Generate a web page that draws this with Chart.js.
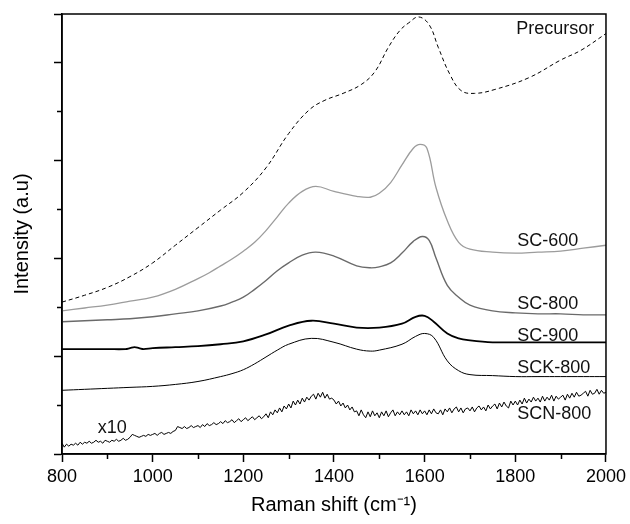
<!DOCTYPE html>
<html>
<head>
<meta charset="utf-8">
<script src="https://cdn.jsdelivr.net/npm/chart.js@4/dist/chart.umd.min.js"></script>
<style>
  body { margin: 0; background: #fff; }
  #wrap { width: 630px; height: 524px; }
</style>
</head>
<body>
<div id="wrap"><canvas id="raman"></canvas></div>
<script>
// raman spectra, values (a.u.)
const precursorX = [800, 850, 900, 950, 1000, 1050, 1100, 1150, 1200, 1250, 1300, 1345, 1380, 1420, 1460, 1490, 1520, 1545, 1565, 1587, 1610, 1630, 1655, 1680, 1710, 1755, 1830, 1900, 1945, 2000];
const precursorY = [155, 162, 170, 181, 195, 213, 231, 249, 267, 292, 327, 351, 361, 368, 377, 390, 415, 432, 440, 446, 438, 415, 388, 371, 368, 372, 384, 402, 412, 429];

const sc600X = [800, 850, 900, 950, 1000, 1050, 1100, 1125, 1150, 1175, 1200, 1225, 1250, 1275, 1300, 1330, 1360, 1400, 1450, 1480, 1500, 1525, 1550, 1575, 1590, 1605, 1625, 1650, 1675, 1700, 1750, 1800, 1850, 1900, 1950, 2000];
const sc600Y = [146, 149, 152, 156, 160, 168, 179, 185, 192, 199, 207, 216, 228, 242, 256, 268, 273, 268, 263, 262, 266, 277, 295, 312, 316, 312, 272, 238, 216, 209, 206, 205, 206, 207, 210, 213];

const sc800X = [800, 850, 900, 950, 1000, 1050, 1100, 1150, 1175, 1200, 1225, 1250, 1275, 1300, 1330, 1360, 1400, 1450, 1480, 1500, 1525, 1550, 1575, 1595, 1610, 1625, 1650, 1675, 1700, 1750, 1800, 1850, 1900, 1950, 2000];
const sc800Y = [135, 136, 137, 138, 140, 143, 146, 151, 155, 160, 168, 177, 187, 195, 203, 206, 202, 192, 190, 191, 195, 205, 217, 222, 218, 200, 172, 160, 152, 146, 144, 143, 143, 142, 142];

const sc900X = [800, 850, 900, 940, 950, 960, 970, 980, 1000, 1050, 1100, 1150, 1200, 1250, 1300, 1350, 1400, 1450, 1500, 1550, 1580, 1600, 1620, 1650, 1675, 1700, 1750, 1800, 1850, 1900, 1950, 2000];
const sc900Y = [107, 107, 107, 107, 108, 109, 108, 107, 108, 109, 110, 112, 115, 122, 131, 136, 133, 129, 129, 133, 140, 141, 135, 123, 118, 116, 114, 114, 114, 114, 114, 114];

const sck800X = [800, 850, 900, 950, 1000, 1050, 1100, 1150, 1175, 1200, 1225, 1250, 1275, 1300, 1350, 1400, 1450, 1480, 1500, 1550, 1580, 1600, 1620, 1650, 1675, 1700, 1750, 1800, 1850, 1900, 1950, 2000];
const sck800Y = [65, 66, 67, 68, 69, 71, 74, 79, 82, 86, 92, 99, 106, 112, 118, 114, 107, 105, 106, 112, 120, 123, 119, 95, 85, 81, 80, 79, 79, 79, 79, 79];

// SCN-800 (x10), one value every 5 cm-1 from 800 to 2000
const scn800Y = [
  11, 7, 10, 8, 10, 9, 11, 9, 12, 10,
  12, 11, 13, 11, 12, 14, 12, 13, 11, 14,
  13, 12, 14, 13, 15, 13, 14, 16, 14, 15,
  17, 20, 19, 18, 17, 18, 19, 18, 20, 19,
  20, 21, 19, 21, 22, 20, 21, 22, 21, 23,
  24, 28, 27, 26, 28, 26, 27, 29, 27, 28,
  29, 27, 30, 28, 31, 29, 30, 32, 30, 31,
  33, 31, 34, 32, 33, 35, 32, 34, 36, 33,
  35, 37, 34, 36, 38, 35, 37, 39, 36, 38,
  41, 37, 43, 40, 45, 42, 47, 43, 49, 46,
  51, 47, 54, 50, 55, 51, 57, 53, 58, 55,
  59, 61, 56, 62, 58, 63, 57, 61, 56, 57,
  55, 51, 54, 49, 52, 47, 50, 45, 48, 43,
  44, 39, 45, 40, 37, 43, 38, 44, 39, 42,
  37, 43, 39, 44, 38, 42, 45, 39, 43, 40,
  44, 40, 43, 39, 45, 41, 44, 40, 45, 41,
  44, 40, 45, 41, 46, 42, 41, 45, 40, 46,
  43, 47, 42, 46, 48, 43, 47, 42, 46, 47,
  44, 48, 43, 47, 49, 45, 48, 44, 50, 46,
  49, 51, 46, 52, 48, 53, 49, 47, 54, 50,
  54, 50, 55, 51, 57, 52, 56, 53, 58, 54,
  57, 53, 59, 54, 58, 55, 60, 54, 59, 56,
  58, 60, 55, 61, 57, 62, 58, 63, 59, 60,
  62, 64, 59, 65, 61, 62, 66, 61, 65, 62,
  63
];
const scn800X = [];
for (let w = 800; w <= 2000; w += 5) scn800X.push(w);

const xMinor = [900, 1100, 1300, 1500, 1700, 1900];
const yMinor = [50, 150, 250, 350];

// curve labels: [text, x, y]
const curveLabels = [
  ['Precursor', 1802, 434],
  ['SC-600', 1804, 217],
  ['SC-800', 1804, 153],
  ['SC-900', 1804, 120],
  ['SCK-800', 1804, 88],
  ['SCN-800', 1804, 41],
  ['x10', 879, 26]
];

const FONT = 'Arial, "Liberation Sans", sans-serif';

function pts(xs, ys) {
  return xs.map((x, i) => ({ x: x, y: ys[i] }));
}

const extras = {
  id: 'extras',
  afterDraw(chart) {
    const ctx = chart.ctx;
    const a = chart.chartArea;
    const xs = chart.scales.x, ys = chart.scales.y;
    ctx.save();
    ctx.strokeStyle = '#000';
    ctx.lineWidth = 1.5;
    ctx.strokeRect(a.left, a.top, a.right - a.left, a.bottom - a.top);
    // minor ticks
    ctx.beginPath();
    xMinor.forEach(v => {
      const p = Math.round(xs.getPixelForValue(v)) + 0.5;
      ctx.moveTo(p, a.bottom); ctx.lineTo(p, a.bottom + 5);
    });
    yMinor.forEach(v => {
      const p = Math.round(ys.getPixelForValue(v)) + 0.5;
      ctx.moveTo(a.left - 5, p); ctx.lineTo(a.left, p);
    });
    ctx.stroke();
    // labels
    ctx.fillStyle = '#111';
    ctx.font = '18px ' + FONT;
    ctx.textBaseline = 'middle';
    ctx.textAlign = 'left';
    curveLabels.forEach(l => {
      ctx.fillText(l[0], xs.getPixelForValue(l[1]), ys.getPixelForValue(l[2]));
    });
    ctx.restore();
  }
};

const config = {
  type: 'line',
  data: {
    datasets: [
      { label: 'Precursor', data: pts(precursorX, precursorY), borderColor: '#000', borderWidth: 1, borderDash: [4, 3] },
      { label: 'SC-600', data: pts(sc600X, sc600Y), borderColor: '#9c9c9c', borderWidth: 1.3 },
      { label: 'SC-800', data: pts(sc800X, sc800Y), borderColor: '#6a6a6a', borderWidth: 1.4 },
      { label: 'SC-900', data: pts(sc900X, sc900Y), borderColor: '#000', borderWidth: 1.8 },
      { label: 'SCK-800', data: pts(sck800X, sck800Y), borderColor: '#000', borderWidth: 1 },
      { label: 'SCN-800', data: pts(scn800X, scn800Y), borderColor: '#000', borderWidth: 1, tension: 0 }
    ]
  },
  options: {
    responsive: true,
    maintainAspectRatio: false,
    animation: false,
    layout: { padding: { top: 14, right: 22, left: 0, bottom: 0 } },
    elements: {
      point: { radius: 0 },
      line: { tension: 0.4 }
    },
    plugins: { legend: { display: false }, tooltip: { enabled: false } },
    scales: {
      x: {
        type: 'linear',
        min: 800, max: 2000,
        border: { color: '#000', width: 1.5 },
        grid: { drawOnChartArea: false, tickLength: 8, tickColor: '#000', tickWidth: 1.5 },
        ticks: { stepSize: 200, color: '#000', font: { size: 18, family: FONT }, padding: 4, maxRotation: 0, callback: v => String(v) },
        title: { display: true, text: 'Raman shift (cm\u207B\u00B9)', color: '#000', font: { size: 20, family: FONT }, padding: { top: 0, bottom: 7 } },
        afterFit(scale) { scale.height = 70; }
      },
      y: {
        min: 0, max: 449,
        border: { color: '#000', width: 1.5 },
        grid: { drawOnChartArea: false, tickLength: 8, tickColor: '#000', tickWidth: 1.5 },
        ticks: { stepSize: 100, callback: () => '' },
        title: { display: true, text: 'Intensity (a.u)', color: '#000', font: { size: 20, family: FONT }, padding: { top: 10, bottom: 0 } },
        afterFit(scale) { scale.width = 62; }
      }
    }
  },
  plugins: [extras]
};

const myChart = new Chart(document.getElementById('raman'), config);
</script>
</body>
</html>
